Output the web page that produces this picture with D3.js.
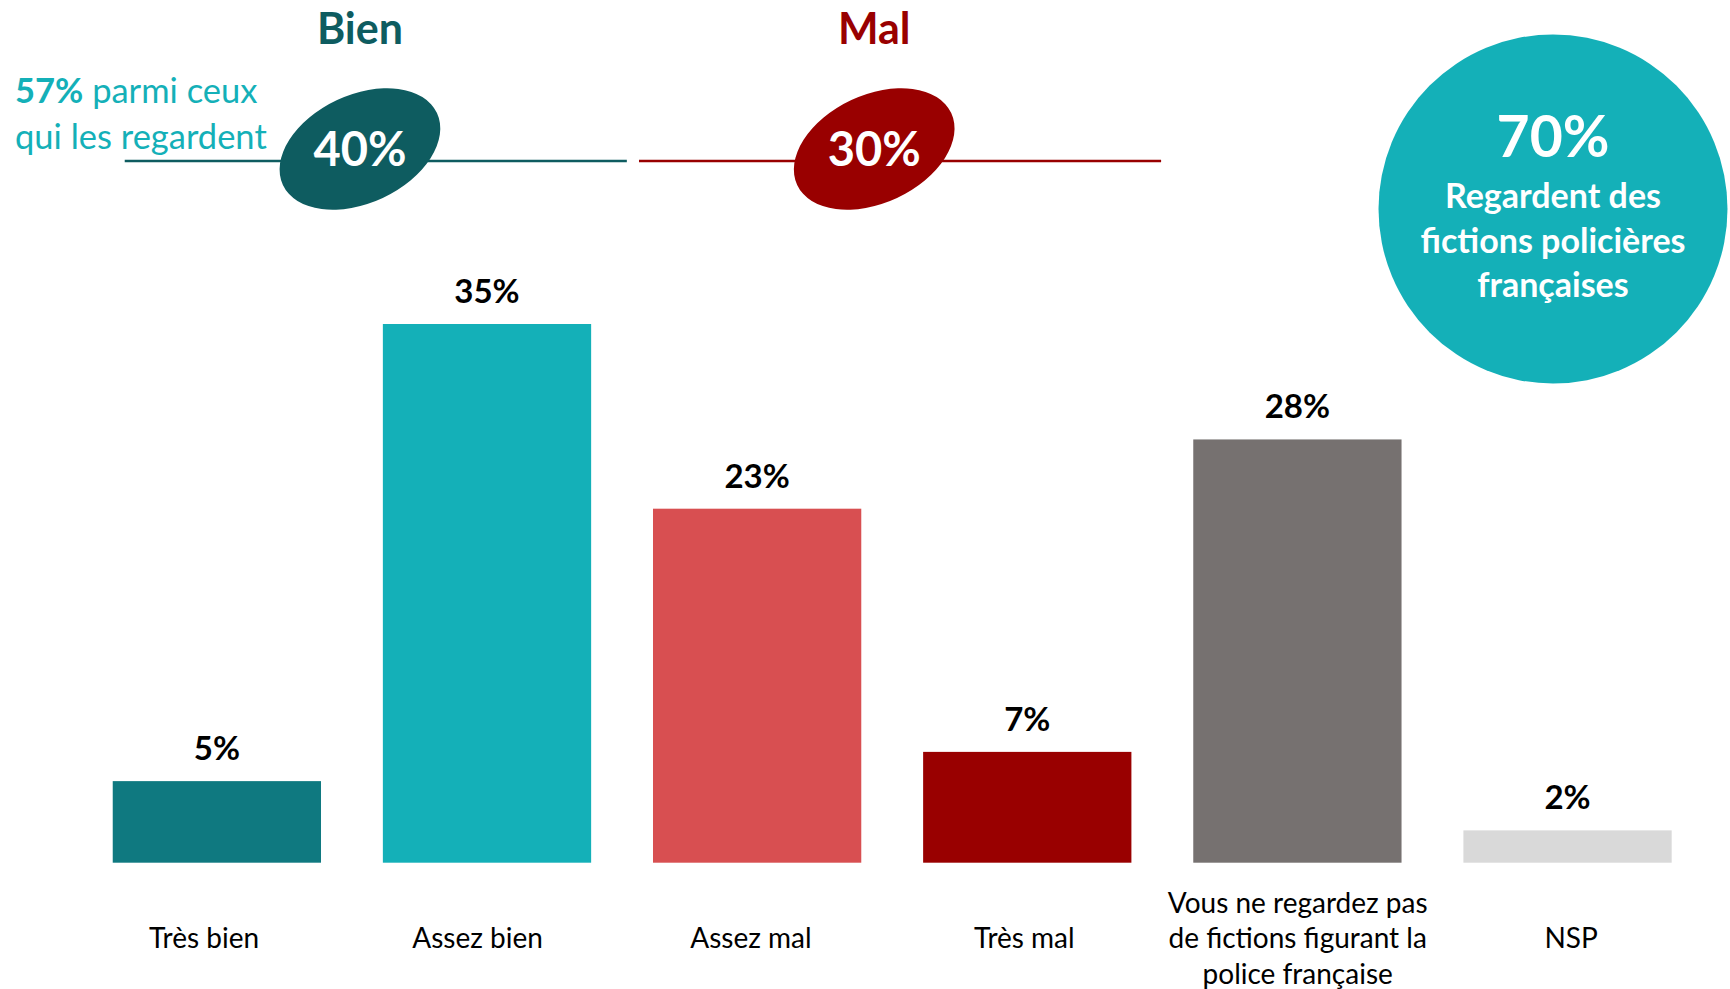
<!DOCTYPE html>
<html>
<head>
<meta charset="utf-8">
<script src="https://cdn.jsdelivr.net/npm/d3@7"></script>
<style>
  html, body { margin: 0; padding: 0; background: #fff; }
  svg { display: block; font-family: Lato, "Open Sans", sans-serif; }
</style>
</head>
<body>
<svg id="chart" width="1730" height="989"></svg>
<script>
// ---- data ----
const categories = ["Très bien", "Assez bien", "Assez mal", "Très mal",
  "Vous ne regardez pas de fictions figurant la police française", "NSP"];
const categoryLines = [["Très bien"], ["Assez bien"], ["Assez mal"], ["Très mal"],
  ["Vous ne regardez pas", "de fictions figurant la", "police française"], ["NSP"]];
// bar heights (unrounded), and their printed labels
const values = [5.3, 35, 23, 7.2, 27.5, 2.1];
const valueLabels = ["5%", "35%", "23%", "7%", "28%", "2%"];
const barColors = ["#0f7980", "#14b0b8", "#d84f51", "#990000", "#767170", "#d9d9d9"];

const groupLabels = ["Bien", "Mal"];
const groupValues = [40, 30];
const groupColors = ["#0e5c60", "#990000"];

const noteValue = 57;
const noteText = ["parmi ceux", "qui les regardent"];

const bubbleValue = 70;
const bubbleLines = ["Regardent des", "fictions policières", "françaises"];

// ---- layout ----
const svg = d3.select("#chart");
const baseline = 862.7;

const x = d3.scaleBand()
  .domain(categories)
  .range([81.8, 1702.6])
  .paddingInner(0.229)
  .paddingOuter(0.1145);

// category label positions (slightly wider spacing than the bars)
const xLab = d3.scaleBand()
  .domain(categories)
  .range([67.4, 1707.8])
  .paddingInner(0.229)
  .paddingOuter(0.1145);

const y = d3.scaleLinear()
  .domain([0, 35])
  .range([baseline, 324]);

// bars
svg.append("g").selectAll("rect")
  .data(values)
  .join("rect")
  .attr("x", (d, i) => x(categories[i]))
  .attr("y", d => y(d))
  .attr("width", x.bandwidth())
  .attr("height", d => baseline - y(d))
  .attr("fill", (d, i) => barColors[i]);

// value labels
svg.append("g").selectAll("text")
  .data(values)
  .join("text")
  .attr("x", (d, i) => x(categories[i]) + x.bandwidth() / 2)
  .attr("y", d => y(d) - 21)
  .attr("text-anchor", "middle")
  .attr("font-size", 33)
  .attr("font-weight", 700)
  .attr("fill", "#000")
  .text((d, i) => valueLabels[i]);

// category labels
const catG = svg.append("g");
categoryLines.forEach((lines, i) => {
  const cx = xLab(categories[i]) + xLab.bandwidth() / 2;
  const lh = 35.5;
  const first = 948 - (lines.length - 1) / 2 * lh;
  const t = catG.append("text")
    .attr("text-anchor", "middle")
    .attr("font-size", 28)
    .attr("fill", "#000");
  lines.forEach((ln, j) => {
    t.append("tspan").attr("x", cx).attr("y", first + j * lh).text(ln);
  });
});

// group summaries (Bien / Mal)
const bw = x.bandwidth();
const groups = [
  { c0: 0, c1: 1, dx: 8, l0: 12, l1: 35.7 },
  { c0: 2, c1: 3, dx: -18, l0: -14, l1: 29.7 }
];
const lineY = 161;
groups.forEach((g, i) => {
  const left = x(categories[g.c0]);
  const right = x(categories[g.c1]) + bw;
  const cx = (left + right) / 2 + g.dx;
  svg.append("line")
    .attr("x1", left + g.l0).attr("x2", right + g.l1)
    .attr("y1", lineY).attr("y2", lineY)
    .attr("stroke", groupColors[i]).attr("stroke-width", 2.5);
  svg.append("ellipse")
    .attr("cx", 0).attr("cy", 0)
    .attr("rx", 85).attr("ry", 54)
    .attr("transform", `translate(${cx},149) rotate(-25)`)
    .attr("fill", groupColors[i]);
  svg.append("text")
    .attr("x", cx).attr("y", 166)
    .attr("text-anchor", "middle")
    .attr("font-size", 47).attr("font-weight", 700)
    .attr("fill", "#fff")
    .text(groupValues[i] + "%");
  svg.append("text")
    .attr("x", cx).attr("y", 44)
    .attr("text-anchor", "middle")
    .attr("font-size", 43).attr("font-weight", 700)
    .attr("fill", groupColors[i])
    .text(groupLabels[i]);
});

// note text
const note = svg.append("text")
  .attr("font-size", 34.5)
  .attr("fill", "#14b0b8");
const n1 = note.append("tspan").attr("x", 15).attr("y", 103);
n1.append("tspan").attr("font-weight", 700).text(noteValue + "%");
n1.append("tspan").text(" " + noteText[0]);
note.append("tspan").attr("x", 15).attr("y", 149).text(noteText[1]);

// bubble
const bx = 1553, by = 209;
svg.append("circle")
  .attr("cx", bx).attr("cy", by).attr("r", 174.5)
  .attr("fill", "#14b0b8");
svg.append("text")
  .attr("x", bx).attr("y", 157)
  .attr("text-anchor", "middle")
  .attr("font-size", 57).attr("font-weight", 700)
  .attr("fill", "#fff")
  .text(bubbleValue + "%");
const bt = svg.append("text")
  .attr("text-anchor", "middle")
  .attr("font-size", 34).attr("font-weight", 700)
  .attr("fill", "#fff");
bubbleLines.forEach((ln, j) => {
  bt.append("tspan").attr("x", bx).attr("y", 208 + j * 44.5).text(ln);
});
</script>
</body>
</html>
